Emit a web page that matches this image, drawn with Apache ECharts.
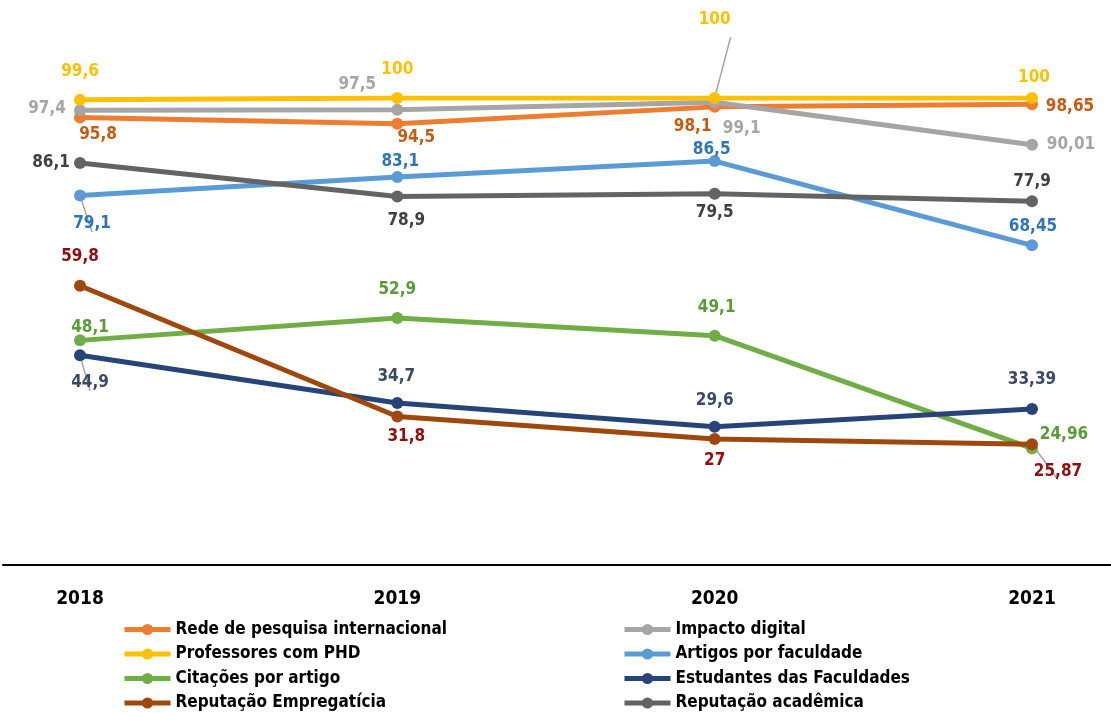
<!DOCTYPE html>
<html>
<head>
<meta charset="utf-8">
<script src="https://cdn.jsdelivr.net/npm/echarts@6/dist/echarts.min.js"></script>
<style>
  html, body { margin: 0; padding: 0; background: #fff; }
  #chart { width: 1111px; height: 713px; }
</style>
</head>
<body>
<div id="chart"></div>
<script>
// dados
var anos = ['2018', '2019', '2020', '2021'];
var redePesquisa = [95.8, 94.5, 98.1, 98.65];
var impactoDigital = [97.4, 97.5, 99.1, 90.01];
var professoresPhd = [99.6, 100, 100, 100];
var artigosFaculdade = [79.1, 83.1, 86.5, 68.45];
var citacoesArtigo = [48.1, 52.9, 49.1, 24.96];
var estudantesFaculdades = [44.9, 34.7, 29.6, 33.39];
var reputacaoEmpregaticia = [59.8, 31.8, 27, 25.87];
var reputacaoAcademica = [86.1, 78.9, 79.5, 77.9];

var FONT = '"DejaVu Sans Condensed", "Liberation Sans Narrow", sans-serif';

// deslocamento de cada rótulo em relação ao ponto [dx, dy], e se leva linha guia
var series = [
  { name: 'Rede de pesquisa internacional', data: redePesquisa, color: '#ED7D31', text: '#C55A11',
    off: [[18, 17], [19, 14], [-22, 20], [38, 2]], guide: [] },
  { name: 'Impacto digital', data: impactoDigital, color: '#A5A5A5', text: '#A5A5A5',
    off: [[-33, -2], [-40, -25], [27, 26], [39, 0]], guide: [0, 1] },
  { name: 'Professores com PHD', data: professoresPhd, color: '#FFC000', text: '#FFC000',
    off: [[0, -28], [0, -28], [0, -78], [2, -20]], guide: [2] },
  { name: 'Artigos por faculdade', data: artigosFaculdade, color: '#5B9BD5', text: '#2E75B6',
    off: [[12, 28], [3, -15], [-3, -11], [1, -19]], guide: [0] },
  { name: 'Citações por artigo', data: citacoesArtigo, color: '#70AD47', text: '#5A9A38',
    off: [[10, -13], [0, -28], [2, -28], [32, -14]], guide: [] },
  { name: 'Estudantes das Faculdades', data: estudantesFaculdades, color: '#264478', text: '#3B4A63',
    off: [[10, 27], [-1, -26], [0, -26], [0, -29]], guide: [0] },
  { name: 'Reputação Empregatícia', data: reputacaoEmpregaticia, color: '#9E480E', text: '#8E0E0E',
    off: [[0, -29], [9, 20], [0, 22], [26, 27]], guide: [3] },
  { name: 'Reputação acadêmica', data: reputacaoAcademica, color: '#636363', text: '#404040',
    off: [[-29, 0], [9, 24], [0, 19], [0, -20]], guide: [] }
];

function fmt(v) {
  return String(v).replace('.', ',');
}

var chart = echarts.init(document.getElementById('chart'));

// legenda em duas colunas: uma legenda por entrada
var legendRows = [621, 645.5, 670, 694.5];
var legends = series.map(function (s, i) {
  return {
    left: i % 2 === 0 ? 122 : 622,
    top: legendRows[Math.floor(i / 2)],
    padding: 0,
    itemWidth: 46,
    itemHeight: 14,
    data: [s.name],
    lineStyle: { width: 5 },
    textStyle: { fontFamily: FONT, fontWeight: 'bold', fontSize: 17, color: '#000' }
  };
});

var option = {
  animation: false,
  backgroundColor: '#fff',
  grid: [
    { left: 80, right: 79, top: 98, bottom: 148 },
    // só para a linha do eixo que atravessa toda a largura
    { left: 3, right: 0, top: 98, bottom: 148 }
  ],
  xAxis: [
    {
      type: 'category',
      data: anos,
      boundaryGap: false,
      gridIndex: 0,
      axisLine: { show: false },
      axisTick: { show: false },
      axisLabel: { margin: 25, fontFamily: FONT, fontWeight: 'bold', fontSize: 19, color: '#000' }
    },
    {
      type: 'value',
      gridIndex: 1,
      min: 0,
      max: 1,
      axisLine: { show: true, onZero: false, lineStyle: { color: '#000', width: 2 } },
      axisTick: { show: false },
      axisLabel: { show: false },
      splitLine: { show: false }
    }
  ],
  yAxis: [
    { type: 'value', gridIndex: 0, min: 0, max: 100, show: false },
    { type: 'value', gridIndex: 1, min: 0, max: 1, show: false }
  ],
  legend: legends,
  series: series.map(function (s) {
    return {
      name: s.name,
      type: 'line',
      symbol: 'circle',
      symbolSize: 12,
      color: s.color,
      lineStyle: { width: 5, color: s.color },
      itemStyle: { color: s.color },
      data: s.data.map(function (v, i) {
        return {
          value: v,
          label: { offset: s.off[i] },
          labelLine: { show: s.guide.indexOf(i) >= 0 }
        };
      }),
      label: {
        show: true,
        position: 'inside',
        fontFamily: FONT,
        fontWeight: 'bold',
        fontSize: 17,
        color: s.text,
        formatter: function (p) { return fmt(p.value); }
      },
      labelLine: { show: false, lineStyle: { color: '#A5A5A5', width: 1.5 } }
    };
  })
};

chart.setOption(option);
</script>
</body>
</html>
